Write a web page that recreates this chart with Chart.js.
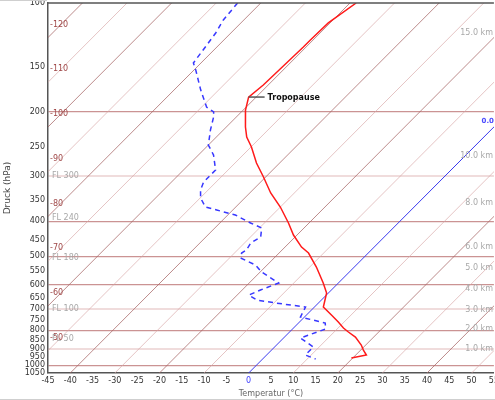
<!DOCTYPE html>
<html>
<head>
<meta charset="utf-8">
<script src="https://cdn.jsdelivr.net/npm/chart.js@4.4.1/dist/chart.umd.min.js"></script>
<style>
  html, body { margin: 0; padding: 0; overflow: hidden; background: #fff; }
  #wrap { position: relative; width: 502px; height: 400px; }
  .edge { position: absolute; background: #cfcfcf; height: 1px; }
</style>
</head>
<body>
<div id="wrap"><canvas id="skewt"></canvas></div>
<div class="edge" style="left:0;top:0;width:47px;"></div>
<div class="edge" style="left:0;top:399px;width:502px;"></div>
<script>
// skew-T: x position = temperature + SKEW * log10(1050 / p)
const SKEW = 81;
const P_BOTTOM = 1050;
const P_TOP = 100;

// temperature profile (hPa / degC)
const tempP = [100, 113.5, 126.5, 132.3, 168.4, 181.8, 197.4, 220, 234.3, 249.7, 276.4, 302.1,
  334.5, 365.7, 404.8, 436.9, 471.6, 489.8, 535.5, 592.6, 631.6, 690.4, 726.3, 759.3, 788.9,
  809.2, 835.5, 879, 907.5, 937, 955];
const tempT = [-58.6, -60.4, -60.6, -60.6, -61.1, -61.7, -59.5, -55.7, -53.2, -49.9, -45.2, -40.5,
  -35.3, -30.0, -24.6, -20.8, -16.3, -13.4, -8.5, -3.4, -0.4, 2.0, 5.6, 8.7, 11.2,
  13.2, 15.9, 19.0, 20.6, 22.4, 19.7];

// dewpoint profile
const dewP = [100, 111.4, 121, 146.4, 153.1, 173.9, 193.7, 199.9, 206.3, 224.1, 246.6, 262.8,
  289, 298.4, 312, 328.2, 345.3, 365.7, 372.7, 384.7, 404.8, 417.8, 442.5, 459.6, 480.6, 489.8,
  505.6, 528.6, 552.6, 592.6, 619.7, 639.7, 660.3, 673, 690.4, 735.6, 764.2, 793.9, 840.6,
  890.2, 936.8, 960.8];
const dewT = [-85.2, -84.6, -83.4, -81.7, -79.6, -74.0, -68.9, -66.2, -65.1, -62.9, -60.0, -56.6,
  -52.8, -52.8, -52.8, -51.7, -49.9, -46.8, -43.6, -38.3, -33.1, -29.5, -27.7, -28.6, -28.0, -28.4,
  -27.5, -22.6, -19.7, -13.4, -15.9, -17.4, -14.5, -9.6, -2.0, -0.9, 6.0, 7.4, 3.8,
  8.7, 8.7, 11.9];

const tropopauseIndex = 5;

const isotherms = [-130, -120, -110, -100, -90, -80, -70, -60, -50, -40, -30, -20, -10, 0, 10, 20, 30, 40, 50];
const isoLabels = [-120, -110, -100, -90, -80, -70, -60, -50];
const pressureTicks = [100, 150, 200, 250, 300, 350, 400, 450, 500, 550, 600, 650, 700, 750,
  800, 850, 900, 950, 1000, 1050];
const strongLevels = [200, 400, 500, 600, 800, 1000];
const lightLevels = [300, 700, 900];

const flNames = ['FL 300', 'FL 240', 'FL 180', 'FL 100', 'FL 50'];
const flP = [301, 393, 506, 697, 843];
const kmNames = ['15.0 km', '10.0 km', '8.0 km', '6.0 km', '5.0 km', '4.0 km', '3.0 km', '2.0 km', '1.0 km'];
const kmP = [121, 265, 356, 472, 540, 616, 701, 795, 899];

const FONT = 'DejaVu Sans';

function skewX(t, p) {
  return t + SKEW * Math.log10(P_BOTTOM / p);
}

function profile(ps, ts) {
  return ps.map((p, i) => ({ x: skewX(ts[i], p), y: p }));
}

const isoSets = isotherms.map((t) => ({
  data: [{ x: skewX(t, P_BOTTOM), y: P_BOTTOM }, { x: skewX(t, P_TOP), y: P_TOP }],
  borderColor: t === 0 ? '#3a3aee' : (t % 20 === 0 ? 'rgba(165,100,100,0.75)' : 'rgba(215,165,165,0.65)'),
  borderWidth: 1,
  pointRadius: 0,
  showLine: true,
  order: 10,
}));

const labelsPlugin = {
  id: 'skewLabels',
  afterDatasetsDraw(chart) {
    const { ctx, chartArea } = chart;
    const xs = chart.scales.x;
    const ys = chart.scales.y;
    ctx.save();

    // frame top
    ctx.strokeStyle = '#555';
    ctx.lineWidth = 1.5;
    ctx.beginPath();
    ctx.moveTo(chartArea.left, chartArea.top);
    ctx.lineTo(chartArea.right, chartArea.top);
    ctx.stroke();

    // isotherm labels on left edge
    ctx.font = '8px ' + FONT;
    ctx.textBaseline = 'middle';
    ctx.textAlign = 'left';
    ctx.fillStyle = '#a04848';
    isoLabels.forEach((t) => {
      const p = P_BOTTOM / Math.pow(10, (xs.min - t) / SKEW);
      ctx.fillText(String(t), chartArea.left + 2, ys.getPixelForValue(p) - 13);
    });

    // flight levels
    ctx.fillStyle = '#a8a8a8';
    flNames.forEach((name, i) => {
      ctx.fillText(name, chartArea.left + 4, ys.getPixelForValue(flP[i]));
    });

    // heights
    ctx.textAlign = 'right';
    kmNames.forEach((name, i) => {
      ctx.fillText(name, 493, ys.getPixelForValue(kmP[i]));
    });

    // 0 degree label
    ctx.fillStyle = '#4a4aff';
    ctx.font = 'bold 7px ' + FONT;
    const p0 = P_BOTTOM / Math.pow(10, xs.max / SKEW);
    ctx.fillText('0.0', chartArea.right, ys.getPixelForValue(p0) - 6);

    // tropopause
    const tx = xs.getPixelForValue(skewX(tempT[tropopauseIndex], tempP[tropopauseIndex]));
    const ty = ys.getPixelForValue(tempP[tropopauseIndex]);
    ctx.strokeStyle = '#555';
    ctx.lineWidth = 1.5;
    ctx.beginPath();
    ctx.moveTo(tx, ty);
    ctx.lineTo(tx + 16, ty);
    ctx.stroke();
    ctx.fillStyle = '#111';
    ctx.font = 'bold 8px ' + FONT;
    ctx.textAlign = 'left';
    ctx.fillText('Tropopause', tx + 19, ty + 1);

    ctx.restore();
  },
};

new Chart(document.getElementById('skewt'), {
  type: 'scatter',
  data: {
    datasets: [
      ...isoSets,
      {
        data: profile(tempP, tempT),
        borderColor: '#ff1a1a',
        borderWidth: 1.5,
        pointRadius: 0,
        showLine: true,
        order: 1,
      },
      {
        data: profile(dewP, dewT),
        borderColor: '#3838ff',
        borderWidth: 1.5,
        borderDash: [5, 4],
        pointRadius: 0,
        showLine: true,
        order: 0,
      },
    ],
  },
  options: {
    responsive: true,
    maintainAspectRatio: false,
    animation: false,
    layout: { padding: { top: 3, right: 0, left: 0, bottom: 0 } },
    plugins: { legend: { display: false }, tooltip: { enabled: false } },
    scales: {
      x: {
        type: 'linear',
        min: -45,
        max: 55,
        ticks: {
          stepSize: 5,
          padding: 3,
          font: { family: FONT, size: 8 },
          color: (c) => (c.tick && c.tick.value === 0 ? '#3a3aff' : '#333'),
          maxRotation: 0,
          autoSkip: false,
        },
        grid: { display: false, drawTicks: false, tickLength: 0 },
        border: { color: '#555', width: 1.5 },
        title: {
          display: true,
          text: 'Temperatur (°C)',
          font: { family: FONT, size: 8 },
          color: '#666',
          padding: { top: 2, bottom: 1 },
        },
        afterFit: (s) => { s.height = 27; },
      },
      y: {
        type: 'logarithmic',
        reverse: true,
        min: P_TOP,
        max: P_BOTTOM,
        afterBuildTicks: (s) => { s.ticks = pressureTicks.map((v) => ({ value: v })); },
        ticks: {
          font: { family: FONT, size: 8 },
          color: '#333',
          padding: 3,
          autoSkip: false,
          callback: (v) => String(v),
        },
        grid: {
          drawTicks: false,
          color: (c) => {
            const v = c.tick && c.tick.value;
            if (strongLevels.includes(v)) return 'rgba(190,120,120,0.8)';
            if (lightLevels.includes(v)) return 'rgba(225,185,185,0.5)';
            return 'rgba(0,0,0,0)';
          },
          lineWidth: (c) => (lightLevels.includes(c.tick && c.tick.value) ? 2 : 1.2),
        },
        border: { color: '#555', width: 1.5 },
        title: {
          display: true,
          text: 'Druck (hPa)',
          font: { family: FONT, size: 9 },
          color: '#444',
          padding: { top: 2, bottom: 2 },
        },
        afterFit: (s) => { s.width = 48; s.paddingTop = 3; s.paddingBottom = 0; },
      },
    },
  },
  plugins: [labelsPlugin],
});
</script>
</body>
</html>
